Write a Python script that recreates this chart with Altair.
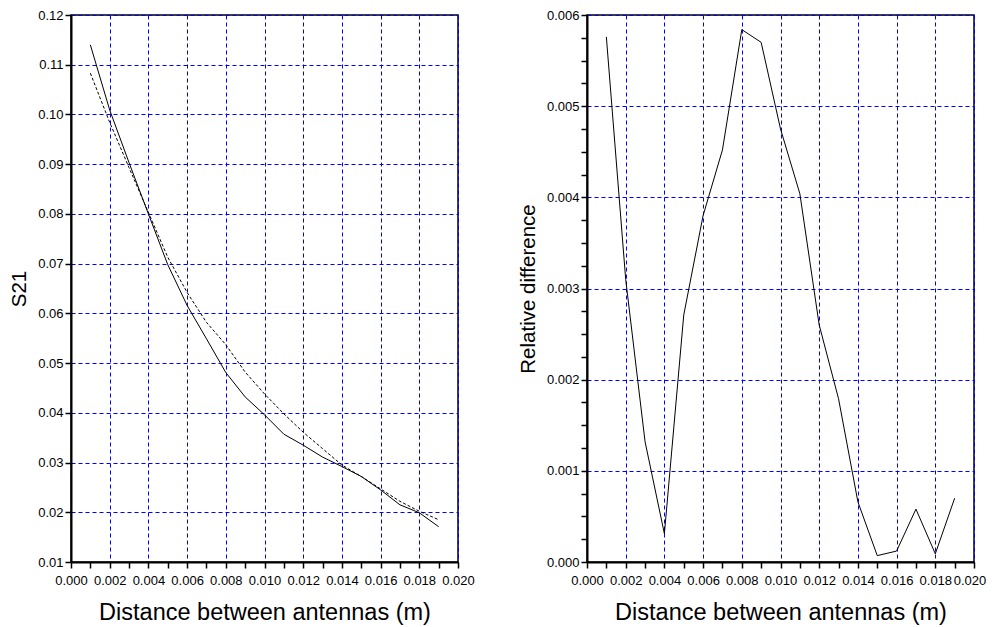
import altair as alt
import pandas as pd

distance = [0.001, 0.002, 0.003, 0.004, 0.005, 0.006, 0.007, 0.008, 0.009, 0.010,
            0.011, 0.012, 0.013, 0.014, 0.015, 0.016, 0.017, 0.018, 0.019]
s21_solid = [0.1140, 0.1009, 0.0903, 0.0800, 0.0698, 0.0616, 0.0549, 0.0481, 0.0432, 0.0396,
             0.0357, 0.0335, 0.0311, 0.0292, 0.0272, 0.0245, 0.0215, 0.0199, 0.0171]
s21_dashed = [0.1083, 0.0984, 0.0893, 0.0803, 0.0713, 0.0642, 0.0582, 0.0537, 0.0482, 0.0438,
              0.0398, 0.0361, 0.0328, 0.0295, 0.0272, 0.0247, 0.0222, 0.0202, 0.0185]
rel_diff = [0.00576, 0.00310, 0.00132, 0.00031, 0.00271, 0.00380, 0.00452, 0.00584, 0.00570, 0.00475,
            0.00404, 0.00260, 0.00179, 0.00066, 0.00007, 0.00012, 0.00058, 0.00009, 0.00070]

x_ticks = [i / 1000 for i in range(0, 21)]
y_left_ticks = [i / 100 for i in range(1, 13)]
y_right_ticks = [i / 4000 for i in range(0, 25)]

df = pd.DataFrame({"d": distance, "solid": s21_solid, "dashed": s21_dashed, "rel": rel_diff})

FONT = "Liberation Sans"
W, H = 387, 547

grid_common = dict(grid=True, gridColor="#0000ff", gridDash=[4, 3], gridWidth=1,
                   domainColor="black", domainWidth=2, tickColor="black", tickWidth=1.5,
                   tickSize=6, labelFont=FONT, labelFontSize=13, labelColor="black",
                   labelOverlap=False, labelFlush=False,
                   titleFont=FONT, titleFontWeight="normal", titleColor="black")


def make_x(shift_last):
    extra = {}
    if shift_last:
        extra = dict(labelOffset={"condition": {"test": "datum.value >= 0.0199", "value": -4.5}, "value": 0})
    axis = alt.Axis(values=x_ticks, format=".3f",
                    labelExpr="round(datum.value*1000) % 2 == 0 ? datum.label : ''",
                    gridOpacity={"condition": {"test": "round(datum.value*1000) % 2 != 0", "value": 0}, "value": 1},
                    title="Distance between antennas (m)", titleFontSize=23.5,
                    labelPadding=6, titlePadding=13, **extra, **grid_common)
    return alt.X("d:Q", scale=alt.Scale(domain=[0, 0.02], nice=False, zero=False), axis=axis)


left_y = alt.Y("solid:Q", scale=alt.Scale(domain=[0.01, 0.12], nice=False, zero=False),
               axis=alt.Axis(values=y_left_ticks, format=".2f", title="S21", titleFontSize=20.5,
                             labelPadding=2, titlePadding=8, **grid_common))

x_left = make_x(False)
solid = alt.Chart(df).mark_line(color="black", strokeWidth=1).encode(x=x_left, y=left_y)
dashed = alt.Chart(df).mark_line(color="black", strokeWidth=1, strokeDash=[3, 2]).encode(
    x=x_left, y=alt.Y("dashed:Q"))
left = alt.layer(solid, dashed).properties(width=W, height=H)

right_y = alt.Y("rel:Q", scale=alt.Scale(domain=[0, 0.006], nice=False, zero=False),
                axis=alt.Axis(values=y_right_ticks, format=".3f",
                              labelExpr="round(datum.value*4000) % 4 == 0 ? datum.label : ''",
                              gridOpacity={"condition": {"test": "round(datum.value*4000) % 4 != 0", "value": 0}, "value": 1},
                              title="Relative difference", titleFontSize=20.5,
                              labelPadding=2, titlePadding=8, **grid_common))
right = alt.Chart(df).mark_line(color="black", strokeWidth=1).encode(
    x=make_x(True), y=right_y).properties(width=W, height=H)

chart = alt.hconcat(left, right, spacing=129, bounds="flush").configure_view(
    stroke="black", strokeWidth=1.5).properties(padding={"left": 0, "top": 0, "right": 0, "bottom": 0})

chart.save("out.html", embed_options={"renderer": "svg", "actions": False})
